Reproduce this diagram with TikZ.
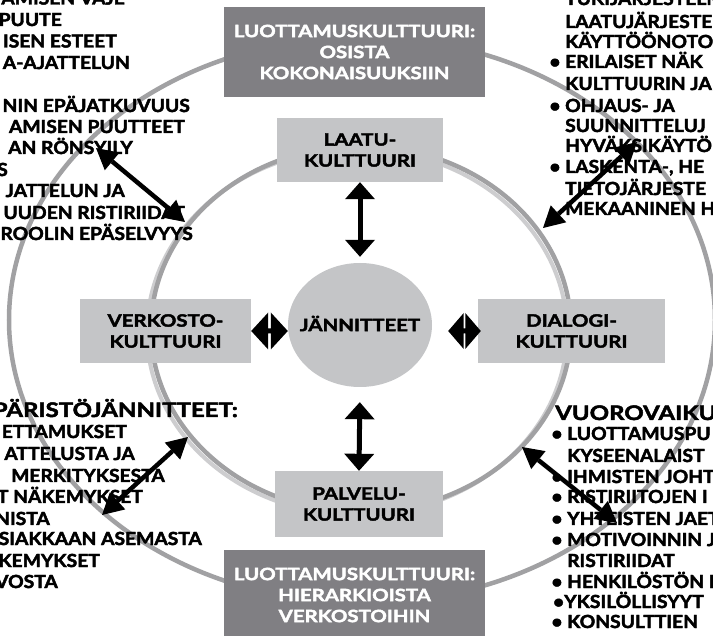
\documentclass[tikz,border=0pt]{standalone}
\usepackage{fontspec}
\setmainfont{Lato}
\newfontfamily\gillish{Lato}[FakeStretch=1.07, BoldFeatures={FakeBold=2.5}]
\newfontfamily\gillbox{Lato}[FakeStretch=1.2, BoldFeatures={FakeBold=2.5}]
\usetikzlibrary{arrows.meta,shapes.geometric,calc}
\definecolor{ringgray}{HTML}{A1A1A3}
\definecolor{ringshade}{HTML}{CDCDCF}
\definecolor{boxlight}{HTML}{C4C5C7}
\definecolor{boxdark}{HTML}{807F83}
\newcommand{\bodysize}{\gillish\bfseries\fontsize{18}{21}\selectfont}
\newcommand{\headsize}{\gillbox\bfseries\fontsize{20}{21}\selectfont}
\newcommand{\boxsize}{\gillbox\bfseries\fontsize{17}{21}\selectfont}
% a short horizontal double arrow whose two heads almost meet
\newcommand{\twinhead}[4]{% left tip, right tip, head length, head half width
  \fill (#1) -- ($(#1)+(#3,-#4)$) -- ($(#1)+(#3,-2.5)$) -- ($(#2)+(-#3,-2.5)$)
    -- ($(#2)+(-#3,-#4)$) -- (#2) -- ($(#2)+(-#3,#4)$) -- ($(#2)+(-#3,2.5)$)
    -- ($(#1)+(#3,2.5)$) -- ($(#1)+(#3,#4)$) -- cycle;}
\tikzset{
  ring/.style={draw=ringgray, line width=4.5pt},
  lbox/.style={fill=boxlight, inner sep=0pt, align=center, font=\boxsize},
  dbox/.style={fill=boxdark, text=white, inner sep=0pt, align=center, font=\boxsize,
    minimum width=261pt, minimum height=90pt},
  txt/.style={inner sep=0pt, font=\bodysize},
  hd/.style={inner sep=0pt, font=\headsize},
  vtip/.style={line width=5pt,
    {Triangle[length=17pt,width=30pt,line width=0pt]}-{Triangle[length=17pt,width=30pt,line width=0pt]}},
  dtip/.style={line width=4.5pt,
    {Triangle[length=21pt,width=23pt,line width=0pt]}-{Triangle[length=21pt,width=23pt,line width=0pt]}},
}
\begin{document}
\begin{tikzpicture}[x=1pt,y=-1pt]
\useasboundingbox (0,0) rectangle (713,636);
\fill[white] (0,0) rectangle (713,636);
\clip (0,0) rectangle (713,636);

% the two rings; the inner one carries a soft shadow
\draw[ring] (362,320) ellipse [x radius=353pt, y radius=283pt];
\draw[draw=ringshade, line width=4pt] (357,332) ellipse [x radius=210pt, y radius=183pt];
\draw[ring] (361,329) ellipse [x radius=210pt, y radius=183pt];

% culture boxes
\node[dbox] (top) at (354.5,52) {LUOTTAMUSKULTTUURI:\\OSISTA\\KOKONAISUUKSIIN};
\node[dbox] (bot) at (354.5,595) {LUOTTAMUSKULTTUURI:\\HIERARKIOISTA\\VERKOSTOIHIN};
\node[lbox, minimum width=166pt, minimum height=64pt] (laatu) at (360,150) {LAATU-\\KULTTUURI};
\node[lbox, minimum width=168pt, minimum height=66pt] (palvelu) at (359,504) {PALVELU-\\KULTTUURI};
\node[lbox, minimum width=171pt, minimum height=64pt] (verkosto) at (165.5,331) {VERKOSTO-\\KULTTUURI};
\node[lbox, minimum width=187pt, minimum height=64pt] (dialogi) at (571.5,331) {DIALOGI-\\KULTTUURI};

% the centre: a fixed-size ellipse with its word laid on top
\node[ellipse, fill=boxlight, minimum width=144pt, minimum height=124pt, inner sep=0pt] (jan) at (360,325) {};
\node[inner sep=0pt, font=\boxsize, text height=12.2pt, text depth=0pt] (jantext) at (jan.center) {JÄNNITTEET};

% upper left list
\foreach \xx/\yy/\tx [count=\i] in {125/4.5/TAMISEN VAJE, 62/26/PUUTE, 117/47.5/ISEN ESTEET,
  130/69/A-AJATTELUN, 190/112/NIN EPÄJATKUVUUS, 185/133/AMISEN PUUTTEET, 133/154/AN RÖNSYILY,
  8/176/S, 125/197/JATTELUN JA, 185/219/UUDEN RISTIRIIDAT, 193/240/ROOLIN EPÄSELVYYS}
  \node[txt, anchor=base east] (tl\i) at (\xx,\yy) {\tx};

% upper right list
\foreach \yy/\tx [count=\i] in {5/TUKIJÄRJESTELM, 28/LAATUJÄRJESTEL, 48/KÄYTTÖÖNOTO,
  68/{\llap{• }ERILAISET NÄK}, 90/KULTTUURIN JA, 112/{\llap{• }OHJAUS- JA}, 132/SUUNNITTELUJ,
  152/HYVÄKSIKÄYTÖ, 173/{\llap{• }LASKENTA-, HE}, 195/TIETOJÄRJESTE, 215/MEKAANINEN H}
  \node[txt, anchor=base west] (tr\i) at (565,\yy) {\tx};

% lower left list
\node[hd, anchor=base east] (blh) at (238,417) {PÄRISTÖJÄNNITTEET:};
\foreach \xx/\yy/\tx [count=\i] in {127/438/ETTAMUKSET, 135/460/ATTELUSTA JA, 165/482/MERKITYKSESTA,
  143/503/T NÄKEMYKSET, 50/525/NISTA, 202/545/SIAKKAAN ASEMASTA, 100/567/KEMYKSET, 58/588/VOSTA}
  \node[txt, anchor=base east] (bl\i) at (\xx,\yy) {\tx};

% lower right list
\node[hd, anchor=base west] (brh) at (555,420) {VUOROVAIKUT};
\foreach \yy/\tx [count=\i] in {440/{\llap{• }LUOTTAMUSPU}, 462/KYSEENALAIST, 483/{\llap{• }IHMISTEN JOHT},
  503/{\llap{• }RISTIRIITOJEN I}, 525/{\llap{• }YHTEISTEN JAET}, 546/{\llap{• }MOTIVOINNIN J},
  567/RISTIRIIDAT, 588/{\llap{• }HENKILÖSTÖN I}, 628/{\llap{• }KONSULTTIEN}}
  \node[txt, anchor=base west] (br\i) at (567,\yy) {\tx};
\node[txt, anchor=base west] (bry) at (564,608) {\llap{•}YKSILÖLLISYYT};

% arrows between the centre and the cultures
\draw[vtip, shorten >=6pt] (laatu.south) -- (jan.north);
\draw[vtip, shorten <=15pt] (jan.south) -- (palvelu.north);
\coordinate (wl) at (verkosto.east);
\coordinate (wr) at (verkosto.east -| jan.west);
\twinhead{wl}{wr}{17}{18.5}
\coordinate (el) at ($(dialogi.west -| jan.east)+(16,0)$);
\coordinate (er) at ($(dialogi.west)+(3,0)$);
\twinhead{el}{er}{15.5}{18}

% arrows across the rings
\coordinate (tla) at (96,148);  \coordinate (tlb) at (185,222);
\coordinate (tra) at (637,142); \coordinate (trb) at (543,228);
\coordinate (bla) at (188,437); \coordinate (blb) at (102,515);
\coordinate (bra) at (522,447); \coordinate (brb) at (617,523);
\draw[dtip] (tla) -- (tlb);
\draw[dtip] (tra) -- (trb);
\draw[dtip] (bla) -- (blb);
\draw[dtip] (bra) -- (brb);
\end{tikzpicture}
\end{document}
